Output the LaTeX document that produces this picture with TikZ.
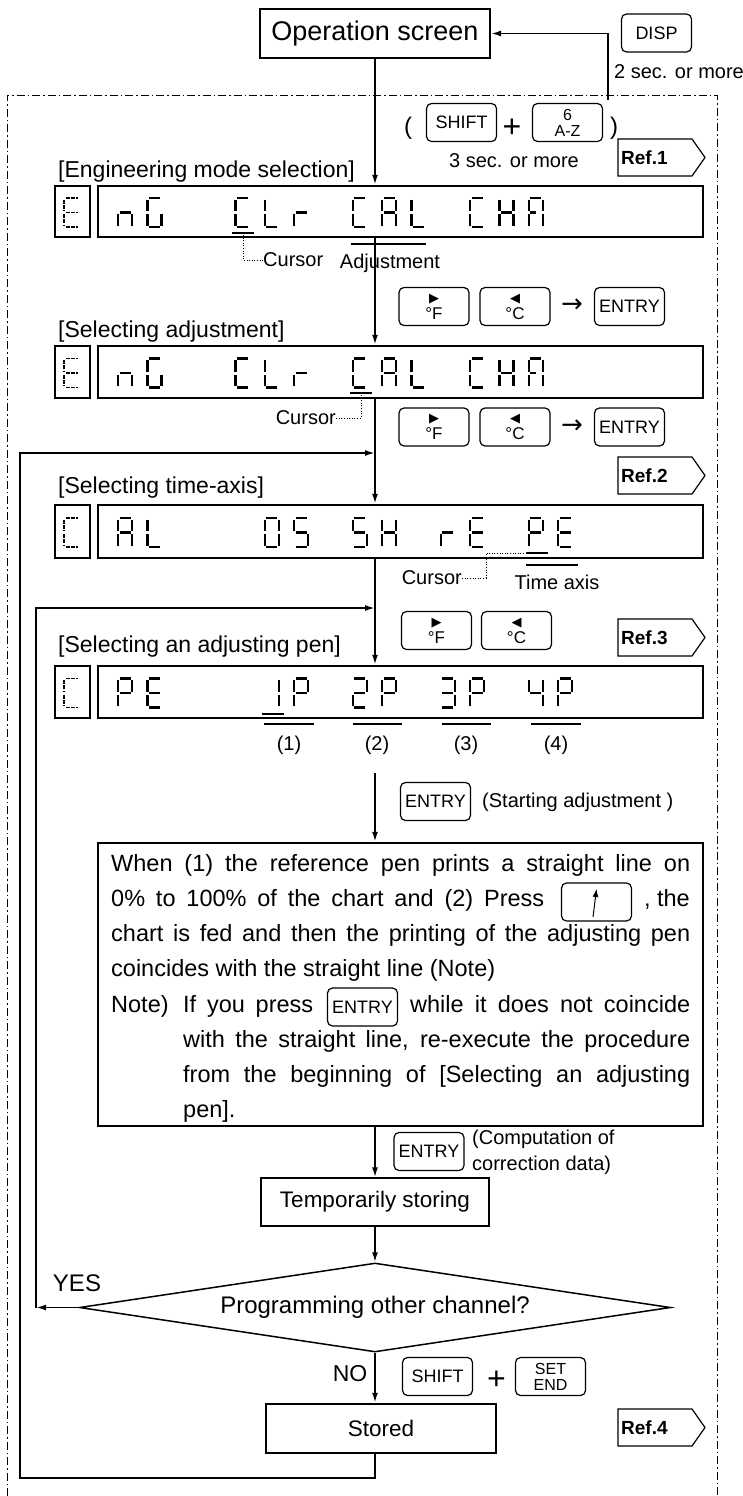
\documentclass[tikz,border=0pt]{standalone}
\usepackage{fontspec}
\setmainfont{Liberation Sans}
\newfontfamily\dejavu{DejaVu Sans}
\usetikzlibrary{arrows.meta,shapes.geometric}
\newcommand{\fsz}[1]{\fontsize{#1}{#1}\selectfont}
\newcommand{\segdraw}[1]{%
 \if a#1\draw[segline] (1.5,0)--(12.5,0);\fi
 \if b#1\draw[segline] (14,1.5)--(14,13);\fi
 \if c#1\draw[segline] (14,16)--(14,27.5);\fi
 \if d#1\draw[segline] (1.5,29)--(12.5,29);\fi
 \if e#1\draw[segline] (0,16)--(0,27.5);\fi
 \if f#1\draw[segline] (0,1.5)--(0,13);\fi
 \if g#1\draw[segline] (1.5,14.5)--(12.5,14.5);\fi
 \if h#1\draw[segline] (1.5,14.5)--(7,14.5);\fi
}
\newcommand{\lcd}[3]{\begin{scope}[shift={({118+29.35*#1},#2)}]\foreach \s in {#3}{\segdraw{\s}}\end{scope}}
\newcommand{\lcdsmall}[2]{\begin{scope}[shift={(64,#1)},xscale=1.1,segline/.style={line width=1.2pt,dash pattern=on 4pt off 1.3pt}]\foreach \s in {#2}{\segdraw{\s}}\end{scope}}
\newcommand{\refsign}[3]{%
 \draw[refline] (618,#2) -- (692,#2) -- (705,{#2+18.5}) -- (692,{#2+37}) -- (618,{#2+37}) -- cycle;
 \node[anchor=west, inner sep=0pt, font=\bfseries\fsz{19}] (#1) at (621,{#2+18.5}) {#3};}
\begin{document}
\begin{tikzpicture}[x=1pt,y=-1pt,
 flow/.style={line width=1.8pt,-{Latex[length=10pt,width=6pt]}},
 plain/.style={line width=1.8pt},
 box/.style={draw,line width=2.4pt,inner sep=0pt},
 key/.style={draw,line width=1.2pt,rounded corners=5pt,minimum width=70pt,minimum height=38pt,inner sep=0pt,align=center,font=\fsz{18}},
 dotline/.style={line width=0.9pt,dash pattern=on 1pt off 1.6pt},
 refline/.style={line width=1.2pt},
 segline/.style={line width=2.4pt},
 cursorline/.style={line width=2.8pt},
 uline/.style={line width=2pt},
 lbl/.style={inner sep=0pt,font=\fsz{20}},
 head/.style={inner sep=0pt,anchor=west,font=\fsz{23}},
 txtl/.style={inner sep=0pt,anchor=base west,font=\fsz{23.5}},
 dispbig/.style={draw,line width=2.4pt,minimum width=605pt,inner sep=0pt},
 dispsmall/.style={draw,line width=1.1pt,minimum width=35pt,inner sep=0pt},
 tkey/.style={key,font=\fsz{17}}]
\useasboundingbox (0,0) rectangle (743,1496);
% frame
\draw[line width=1pt,dash pattern=on 8pt off 3pt on 1.5pt off 3pt] (7,1496) -- (7,95) -- (717,95) -- (717,1496);
% top
\node[box,line width=2.2pt,minimum width=230pt,minimum height=49pt,font=\fsz{27}] (op) at (375,33.5) {Operation screen};
\node[key] (disp) at (656.5,33) {DISP};
\node[lbl,anchor=west] (two) at (614,72) {2 sec. or more};
\coordinate (dispstart) at (608,100);
\draw[flow] (dispstart) |- (op.east);
\node[inner sep=0pt,font=\fsz{24}] (lp1) at (408,128) {(};
\node[key] (shift1) at (461.5,122.5) {SHIFT};
\node[inner sep=0pt,font=\fsz{32}] (plus1) at (512,128) {+};
\node[key,font=\fsz{16}] (az) at (567.5,122.5) {6\\A-Z};
\node[inner sep=0pt,font=\fsz{24}] (rp1) at (614,128) {)};
\node[lbl] (three) at (514,161) {3 sec. or more};
\refsign{r1}{139}{Ref.1}
% display 1
\node[head] (h1) at (58,172) {[Engineering mode selection]};
\node[dispsmall,minimum height=51pt] (d1s) at (72.5,211.5) {};
\node[dispbig,minimum height=51pt] (d1) at (400.5,211.5) {};
\lcdsmall{198}{a,d,e,f,g}
\lcd{0}{198}{c,e,g}\lcd{1}{198}{a,c,d,e,f}
\lcd{4}{198}{a,d,e,f}\lcd{5}{198}{d,e,f}\lcd{6}{198}{e,g}
\lcd{8}{198}{a,d,e,f}\lcd{9}{198}{a,b,c,e,f,g}\lcd{10}{198}{d,e,f}
\lcd{12}{198}{a,d,e,f}\lcd{13}{198}{b,c,e,f,g}\lcd{14}{198}{a,b,c,e,f,h}
\draw[cursorline] (232,233) -- (254,233);
\coordinate (cur1) at (243,235);
\node[lbl,anchor=west] (cl1) at (263,260) {Cursor};
\draw[dotline] (cur1) |- (cl1.west);
\draw[uline] (351,244) -- (426,244);
\node[lbl] (adj) at (390,263) {Adjustment};
\draw[flow] (op.south) -- (op.south |- d1.north);
% display 2
\node[tkey] (kf1) at (434,306.5) {{\dejavu\fsz{13}▶}\\°F};
\node[tkey] (kc1) at (515,306.5) {{\dejavu\fsz{13}◀}\\°C};
\node[inner sep=0pt,font=\dejavu\fsz{26}] (ar1) at (572,306) {→};
\node[key] (ke1) at (629.5,306.5) {ENTRY};
\node[head] (h2) at (58,332) {[Selecting adjustment]};
\node[dispsmall,minimum height=52pt] (d2s) at (72.5,372) {};
\node[dispbig,minimum height=52pt] (d2) at (400.5,372) {};
\lcdsmall{358.5}{a,d,e,f,g}
\lcd{0}{358.5}{c,e,g}\lcd{1}{358.5}{a,c,d,e,f}
\lcd{4}{358.5}{a,d,e,f}\lcd{5}{358.5}{d,e,f}\lcd{6}{358.5}{e,g}
\lcd{8}{358.5}{a,d,e,f}\lcd{9}{358.5}{a,b,c,e,f,g}\lcd{10}{358.5}{d,e,f}
\lcd{12}{358.5}{a,d,e,f}\lcd{13}{358.5}{b,c,e,f,g}\lcd{14}{358.5}{a,b,c,e,f,h}
\draw[cursorline] (350,393) -- (372,393);
\coordinate (cur2) at (361,395);
\node[lbl,anchor=east] (cl2) at (336,418) {Cursor};
\draw[dotline] (cur2) |- (cl2.east);
\draw[flow] (op.south |- d1.south) -- (op.south |- d2.north);
% display 3
\node[tkey] (kf2) at (434,427) {{\dejavu\fsz{13}▶}\\°F};
\node[tkey] (kc2) at (515,427) {{\dejavu\fsz{13}◀}\\°C};
\node[inner sep=0pt,font=\dejavu\fsz{26}] (ar2) at (572,427) {→};
\node[key] (ke2) at (629.5,427) {ENTRY};
\refsign{r2}{457}{Ref.2}
\node[head] (h3) at (58,488) {[Selecting time-axis]};
\node[dispsmall,minimum height=53pt] (d3s) at (72.5,531.5) {};
\node[dispbig,minimum height=53pt] (d3) at (400.5,531.5) {};
\lcdsmall{518}{a,d,e,f}
\lcd{0}{518}{a,b,c,e,f,g}\lcd{1}{518}{d,e,f}
\lcd{5}{518}{a,b,c,d,e,f}\lcd{6}{518}{a,f,g,c,d}
\lcd{8}{518}{a,f,g,c,d}\lcd{9}{518}{b,c,e,f,g}
\lcd{11}{518}{e,g}\lcd{12}{518}{a,d,e,f,g}
\lcd{14}{518}{a,b,e,f,g}\lcd{15}{518}{a,d,e,f,g}
\draw[cursorline] (526,553) -- (548,553);
\coordinate (cur3) at (524,553);
\coordinate (cur3b) at (486,553);
\node[lbl,anchor=east] (cl3) at (462,578) {Cursor};
\draw[dotline] (cur3) -- (cur3b) |- (cl3.east);
\draw[uline] (526,565) -- (578,565);
\node[lbl] (tax) at (557,582) {Time axis};
\coordinate (j1) at (375,453);
\draw[flow] (op.south |- d2.south) -- (op.south |- d3.north);
% display 4
\node[tkey] (kf3) at (436.5,630.5) {{\dejavu\fsz{13}▶}\\°F};
\node[tkey] (kc3) at (516.5,630.5) {{\dejavu\fsz{13}◀}\\°C};
\refsign{r3}{619}{Ref.3}
\node[head] (h4) at (58,647) {[Selecting an adjusting pen]};
\node[dispsmall,minimum height=52pt] (d4s) at (72.5,692) {};
\node[dispbig,minimum height=52pt] (d4) at (400.5,692) {};
\lcdsmall{678.5}{a,d,e,f}
\lcd{0}{678.5}{a,b,e,f,g}\lcd{1}{678.5}{a,d,e,f,g}
\lcd{5}{678.5}{b,c}\lcd{6}{678.5}{a,b,e,f,g}
\lcd{8}{678.5}{a,b,g,e,d}\lcd{9}{678.5}{a,b,e,f,g}
\lcd{11}{678.5}{a,b,g,c,d}\lcd{12}{678.5}{a,b,e,f,g}
\lcd{14}{678.5}{f,g,b,c}\lcd{15}{678.5}{a,b,e,f,g}
\draw[cursorline] (262,714) -- (284,714);
\draw[uline] (264,724) -- (314,724);
\draw[uline] (353,724) -- (402,724);
\draw[uline] (442,724) -- (491,724);
\draw[uline] (531,724) -- (581,724);
\node[lbl] (p1) at (289,745) {(1)};
\node[lbl] (p2) at (377,745) {(2)};
\node[lbl] (p3) at (466,745) {(3)};
\node[lbl] (p4) at (556,745) {(4)};
\coordinate (j2) at (375,608);
\draw[flow] (op.south |- d3.south) -- (op.south |- d4.north);
% text box
\node[key] (ke3) at (435.5,801.5) {ENTRY};
\node[lbl,anchor=west] (start) at (482,802) {(Starting adjustment )};
\coordinate (a4) at (375,773);
\node[box,minimum width=605pt,minimum height=283pt] (txt) at (400.5,984.5) {};
\draw[flow] (a4) -- (a4 |- txt.north);
\node[txtl] (t1) at (111,871) {\makebox[579pt][s]{When (1) the reference pen prints a straight line on}};
\node[txtl] (t2) at (111,906) {\makebox[433pt][s]{0\% to 100\% of the chart and (2) Press}};
\node[key] (kup) at (596.5,902) {};
\draw[line width=1pt,-{Latex[length=8pt,width=6pt]}] (593,917) -- (596.5,889);
\node[txtl,anchor=base east] (t2b) at (690,906) {, the};
\node[txtl] (t3) at (111,941) {\makebox[579pt][s]{chart is fed and then the printing of the adjusting pen}};
\node[txtl] (t4) at (111,976.5) {coincides with the straight line (Note)};
\node[txtl] (t5) at (111,1012) {Note)};
\node[txtl] (t5b) at (183,1012) {\makebox[130pt][s]{If you press}};
\node[key] (ke4) at (362.5,1007) {ENTRY};
\node[txtl] (t5c) at (410,1012) {\makebox[280pt][s]{while it does not coincide}};
\node[txtl] (t6) at (183,1047) {\makebox[507pt][s]{with the straight line, re-execute the procedure}};
\node[txtl] (t7) at (183,1082) {\makebox[507pt][s]{from the beginning of [Selecting an adjusting}};
\node[txtl] (t8) at (183,1117) {pen].};
% lower part
\node[key] (ke5) at (429,1151.5) {ENTRY};
\node[lbl,anchor=west] (comp1) at (472,1139) {(Computation of};
\node[lbl,anchor=west] (comp2) at (472,1165) {correction data)};
\node[draw,line width=1.2pt,minimum width=228pt,minimum height=48pt,inner sep=0pt,font=\fsz{22.5}] (tmp) at (375,1202) {Temporarily storing};
\draw[flow] (a4 |- txt.south) -- (tmp.north);
\node[draw,diamond,shape aspect=6.64,minimum width=591pt,minimum height=89pt,inner sep=0pt,line width=1.5pt,font=\fsz{24}] (dia) at (375,1307.5) {Programming other channel?};
\draw[flow] (tmp.south) -- (dia.north);
\node[inner sep=0pt,font=\fsz{24}] (yes) at (77,1283) {YES};
\node[inner sep=0pt,font=\fsz{23}] (no) at (350,1374) {NO};
\node[key] (shift2) at (437.5,1376.5) {SHIFT};
\node[inner sep=0pt,font=\fsz{32}] (plus2) at (496.5,1380) {+};
\node[key,font=\fsz{16}] (setend) at (550.5,1376.5) {SET\\END};
\node[box,minimum width=230pt,minimum height=49pt,font=\fsz{22.5}] (st) at (381,1428.5) {Stored};
\draw[flow] (dia.south) -- (dia.south |- st.north);
\refsign{r4}{1409}{Ref.4}
% loops
\coordinate (bl) at (20,1478);
\draw[flow] (j1 |- st.south) -- (j1 |- bl) -- (bl) -- (bl |- j1) -- (j1);
\coordinate (yl) at (36,1307.5);
\draw[flow] (dia.west) -- (yl);
\draw[flow] (yl) -- (yl |- j2) -- (j2);
\end{tikzpicture}
\end{document}
